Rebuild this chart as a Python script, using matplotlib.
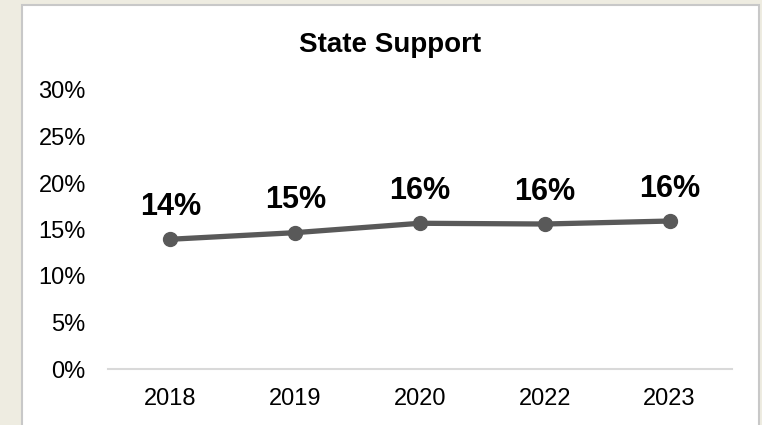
import matplotlib.pyplot as plt
from matplotlib.patches import Rectangle
from matplotlib.ticker import PercentFormatter

plt.rcParams['font.family'] = ['Liberation Sans', 'DejaVu Sans']

anos = ['2018', '2019', '2020', '2022', '2023']
apoyo = [13.95, 14.66, 15.67, 15.59, 15.91]
etiquetas = ['14%', '15%', '16%', '16%', '16%']

fig = plt.figure(figsize=(7.62, 4.25), dpi=100, facecolor='#EEECE1')

# marco blanco del grafico (debajo de los ejes)
marco = Rectangle((22 / 762, -0.05), (759 - 22) / 762, 1 - 5 / 425 + 0.05,
                  transform=fig.transFigure, facecolor='white',
                  edgecolor='#C8C8C8', linewidth=1.5, zorder=-1)
fig.patches.append(marco)

ax = fig.add_axes([108 / 762, 1 - 369 / 425, (732 - 108) / 762, 279 / 425])
ax.set_facecolor('none')

x = range(len(anos))
ax.plot(x, apoyo, color='#595959', linewidth=3.8, marker='o',
        markersize=10, solid_capstyle='round', zorder=3)

for i, v in enumerate(apoyo):
    ax.annotate(etiquetas[i], (i, v), xytext=(0, 17.5), textcoords='offset points',
                ha='center', va='baseline', fontsize=22, fontweight='bold',
                color='black')

ax.set_xlim(-0.5, len(anos) - 0.5)
ax.set_ylim(0, 30)
ax.set_yticks(range(0, 31, 5))
ax.yaxis.set_major_formatter(PercentFormatter(decimals=0))
ax.set_xticks(list(x))
ax.set_xticklabels(anos)

for lado in ['top', 'right', 'left']:
    ax.spines[lado].set_visible(False)
ax.spines['bottom'].set_color('#D9D9D9')
ax.spines['bottom'].set_linewidth(1.5)
ax.tick_params(axis='both', length=0, labelsize=17, colors='black')
ax.tick_params(axis='y', pad=16)
ax.tick_params(axis='x', pad=14)

fig.text(390 / 762, 1 - 51.7 / 425, 'State Support', ha='center', va='baseline',
         fontsize=20, fontweight='bold')

plt.savefig('out.png', dpi=100, facecolor=fig.get_facecolor())
